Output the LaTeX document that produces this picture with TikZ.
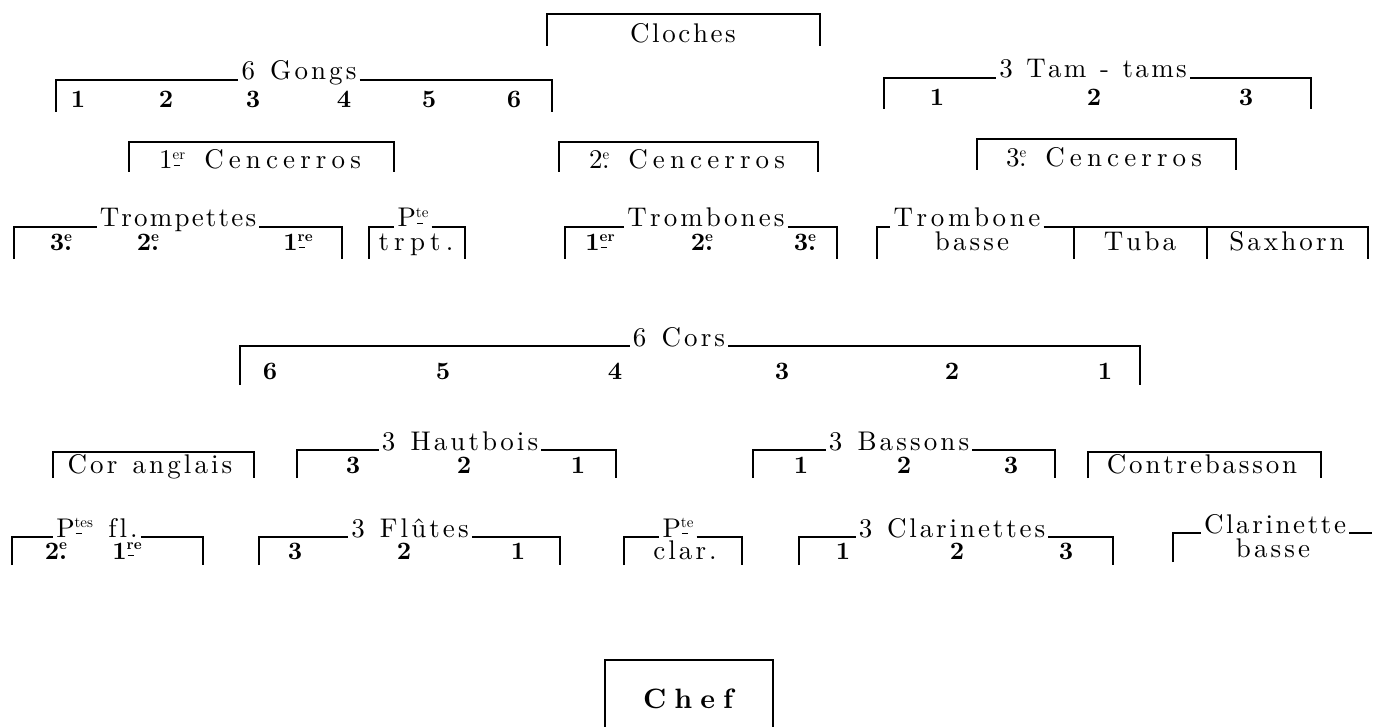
\documentclass[tikz,border=0pt]{standalone}
\usepackage{fontspec}
\setmainfont{lmroman10-regular.otf}[BoldFont=lmroman10-bold.otf]
\newsavebox\supbox
\newcommand\sdot[1]{\sbox\supbox{\fontsize{15}{15}\selectfont #1}\raisebox{9.5pt}{\usebox\supbox}\llap{\hbox to \wd\supbox{\hss.\hss}}}
\newcommand\sbar[1]{\sbox\supbox{\fontsize{15}{15}\selectfont #1}\raisebox{9.5pt}{\usebox\supbox}\llap{\hbox to \wd\supbox{\hskip1pt\rule[3pt]{6pt}{1.4pt}\hss}}}
% manual letter spacing
\newdimen\lsk \lsk=3.1pt
\def\lsend{\lsend}
\def\ls#1{\lsA#1\lsend}
\def\lsA#1{\ifx\lsend#1\unkern\else#1\kern\lsk\expandafter\lsA\fi}
\begin{document}
\begin{tikzpicture}[x=1pt,y=-1pt,
  br/.style={line width=1.6pt},
  lbl/.style={inner sep=0pt,anchor=base,font=\fontsize{27}{27}\selectfont},
  num/.style={inner sep=0pt,anchor=base,font=\fontsize{25}{25}\selectfont\bfseries},
  ttl/.style={inner xsep=3pt,inner ysep=0pt,anchor=base,font=\fontsize{27}{27}\selectfont}]
\useasboundingbox (0,0) rectangle (1375,727);

% ---- Cloches
\node[lbl] (cloches) at (683,43) {\lsk=2.6pt\ls{Cloches}};
\draw[br] (547,46) |- (820,14) -- (820,46);

% ---- 6 Gongs
\node[ttl] (gongs) at (299,80) {\ls{6~Gongs}};
\draw[br] (56,112) -- (56,80) -- (gongs.base west);
\draw[br] (gongs.base east) -- (552,80) -- (552,112);
\foreach \x/\n [count=\i] in {78/1,166/2,253/3,344/4,429/5,514/6}
  \node[num] (g\i) at (\x,108) {\n};

% ---- 3 Tam-tams
\node[ttl] (tam) at (1093,78) {\lsk=2.3pt\ls{3~Tam~-~tams}};
\draw[br] (884,109) -- (884,78) -- (tam.base west);
\draw[br] (tam.base east) -- (1311,78) -- (1311,109);
\foreach \x/\n [count=\i] in {937/1,1094/2,1246/3}
  \node[num] (t\i) at (\x,106) {\n};

% ---- Cencerros
\node[lbl] (cen1) at (260,169) {\lsk=5.1pt\ls{{1\sbar{er}}~Cencerros}};
\draw[br] (129,172) |- (394,142) -- (394,172);
\node[lbl] (cen2) at (687,169) {\lsk=5.1pt\ls{{2\sdot{e}}~Cencerros}};
\draw[br] (559,172) |- (818,142) -- (818,172);
\node[lbl] (cen3) at (1104,167) {\lsk=5.1pt\ls{{3\sdot{e}}~Cencerros}};
\draw[br] (977,170) |- (1236,139) -- (1236,170);

% ---- Trompettes
\node[ttl] (trp) at (178,227) {\lsk=2.2pt\ls{Trompettes}};
\draw[br] (14,259) -- (14,227) -- (trp.base west);
\draw[br] (trp.base east) -- (342,227) -- (342,259);
\node[num] (trp3) at (61,251) {3\sdot{e}};
\node[num] (trp2) at (148,251) {2\sdot{e}};
\node[num] (trp1) at (298,251) {1\sbar{re}};

% ---- Petite trompette
\node[ttl] (ptt) at (413,227) {P\sbar{te}};
\draw[br] (369,259) -- (369,227) -- (ptt.base west);
\draw[br] (ptt.base east) -- (465,227) -- (465,259);
\node[lbl] (trpt) at (416,251) {\lsk=5.2pt\ls{trpt.}};

% ---- Trombones
\node[ttl] (trb) at (706,227) {\ls{Trombones}};
\draw[br] (565,259) -- (565,227) -- (trb.base west);
\draw[br] (trb.base east) -- (837,227) -- (837,259);
\node[num] (trb1) at (600,251) {1\sbar{er}};
\node[num] (trb2) at (702,251) {2\sdot{e}};
\node[num] (trb3) at (805,251) {3\sdot{e}};

% ---- Trombone basse, Tuba, Saxhorn
\node[ttl] (tbb) at (967,227) {\lsk=3.6pt\ls{Trombone}};
\draw[br] (877,259) -- (877,227) -- (tbb.base west);
\draw[br] (tbb.base east) -- (1368,227) -- (1368,259);
\draw[br] (1074,227) -- (1074,259);
\draw[br] (1207,227) -- (1207,259);
\node[lbl] (basse1) at (972,251) {\ls{basse}};
\node[lbl] (tuba) at (1140,251) {\ls{Tuba}};
\node[lbl] (sax) at (1287,251) {\ls{Saxhorn}};

% ---- 6 Cors
\node[ttl] (cors) at (679,346) {\ls{6~Cors}};
\draw[br] (240,385) -- (240,346) -- (cors.base west);
\draw[br] (cors.base east) -- (1140,346) -- (1140,385);
\foreach \x/\n [count=\i] in {270/6,443/5,615/4,782/3,952/2,1105/1}
  \node[num] (c\i) at (\x,379) {\n};

% ---- Cor anglais
\node[lbl] (cang) at (150,473) {\ls{Cor~anglais}};
\draw[br] (53,478) |- (254,452) -- (254,478);

% ---- 3 Hautbois
\node[ttl] (hb) at (460,450) {\ls{3~Hautbois}};
\draw[br] (297,478) -- (297,450) -- (hb.base west);
\draw[br] (hb.base east) -- (616,450) -- (616,478);
\foreach \x/\n [count=\i] in {353/3,464/2,578/1}
  \node[num] (h\i) at (\x,473) {\n};

% ---- 3 Bassons
\node[ttl] (bs) at (899,450) {\ls{3~Bassons}};
\draw[br] (753,478) -- (753,450) -- (bs.base west);
\draw[br] (bs.base east) -- (1055,450) -- (1055,478);
\foreach \x/\n [count=\i] in {801/1,904/2,1011/3}
  \node[num] (b\i) at (\x,473) {\n};

% ---- Contrebasson
\node[lbl] (cb) at (1202,473) {\lsk=2.8pt\ls{Contrebasson}};
\draw[br] (1088,478) |- (1321,452) -- (1321,478);

% ---- Petites flutes
\node[ttl] (pfl) at (97,537) {\ls{{P\sbar{tes}}~fl.}};
\draw[br] (12,565) -- (12,537) -- (pfl.base west);
\draw[br] (pfl.base east) -- (203,537) -- (203,565);
\node[num] (pf2) at (56,559) {2\sdot{e}};
\node[num] (pf1) at (127,559) {1\sbar{re}};

% ---- 3 Flutes
\node[ttl] (fl) at (410,537) {\ls{3~Flûtes}};
\draw[br] (259,565) -- (259,537) -- (fl.base west);
\draw[br] (fl.base east) -- (560,537) -- (560,565);
\foreach \x/\n [count=\i] in {295/3,404/2,518/1}
  \node[num] (f\i) at (\x,559) {\n};

% ---- Petite clarinette
\node[ttl] (pcl) at (678,537) {P\sbar{te}};
\draw[br] (624,565) -- (624,537) -- (pcl.base west);
\draw[br] (pcl.base east) -- (742,537) -- (742,565);
\node[lbl] (clar) at (685,559) {\ls{clar.}};

% ---- 3 Clarinettes
\node[ttl] (cl) at (952,537) {\lsk=2.9pt\ls{3~Clarinettes}};
\draw[br] (799,565) -- (799,537) -- (cl.base west);
\draw[br] (cl.base east) -- (1113,537) -- (1113,565);
\foreach \x/\n [count=\i] in {843/1,957/2,1066/3}
  \node[num] (k\i) at (\x,559) {\n};

% ---- Clarinette basse
\node[ttl] (clb) at (1275,533) {\lsk=2.6pt\ls{Clarinette}};
\draw[br] (1173,562) -- (1173,533) -- (clb.base west);
\draw[br] (clb.base east) -- (1372,533);
\node[lbl] (basse2) at (1273,557) {\ls{basse}};

% ---- Chef
\node[inner sep=0pt,anchor=base,font=\fontsize{28}{28}\selectfont\bfseries] (chef) at (688,708) {\lsk=8pt\ls{Chef}};
\draw[br] (605,727) |- (773,660) -- (773,727);
\end{tikzpicture}
\end{document}
